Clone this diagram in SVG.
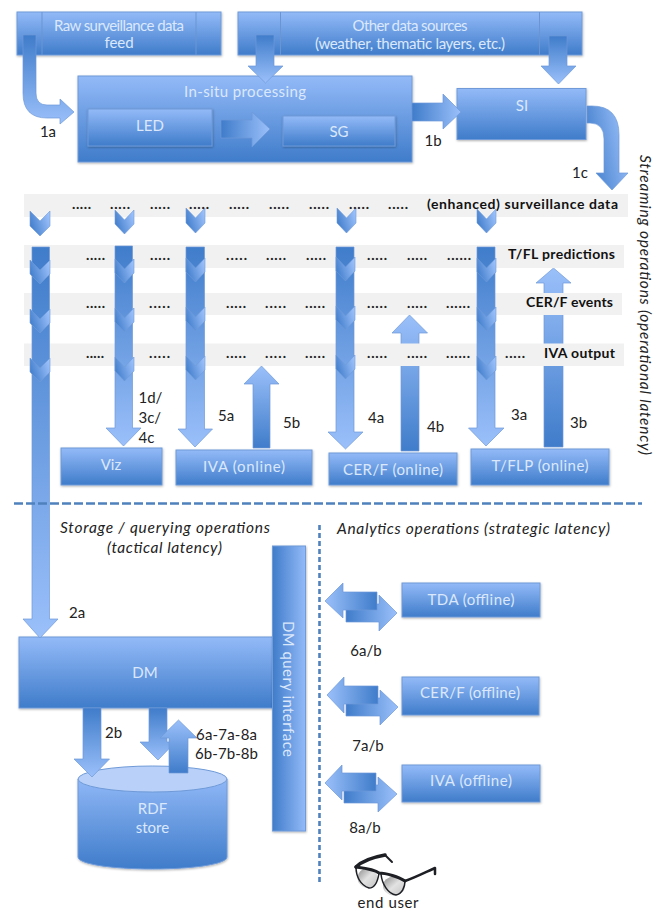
<svg xmlns="http://www.w3.org/2000/svg" width="654" height="912" viewBox="0 0 654 912">
<style>
text{font-family:"Lato","Carlito","Liberation Sans",sans-serif}
.n{fill:url(#box);stroke:#6f9ad8;stroke-width:1;filter:url(#sh)}
.nt{font-size:15px;fill:#dbe8fc;text-anchor:middle}
.sep{stroke:#6a95d2;stroke-width:1;fill:none}
.l{font-size:15px;fill:#222}
.b{font-size:14px;font-weight:700;fill:#111}
.i{font-size:15.5px;font-style:italic;fill:#222}
.dots{font-size:14px;font-weight:900;fill:#222}
.band{fill:#f1f1f1}
.ad{fill:url(#down);stroke:#6f9ad8;stroke-width:.7}
.au{fill:url(#up);stroke:#6f9ad8;stroke-width:.7}
.ar{fill:url(#right);stroke:#6f9ad8;stroke-width:.7}
.al{fill:url(#left);stroke:#6f9ad8;stroke-width:.7}
.ch{fill:url(#chev);stroke:#6f9ad8;stroke-width:.6}
.dash{stroke:#4f81bd;stroke-width:2.6;fill:none}
.fr{fill:none;stroke:#1d1f24;stroke-linecap:round;stroke-linejoin:round}
</style>
<defs>
<linearGradient id="box" x1="0" y1="0" x2="0" y2="1"><stop offset="0" stop-color="#93baf8"/><stop offset="1" stop-color="#3f7cca"/></linearGradient>
<linearGradient id="cyl" x1="0" y1="0" x2="0" y2="1"><stop offset="0" stop-color="#8fb7f6"/><stop offset="1" stop-color="#3f7cca"/></linearGradient>
<linearGradient id="side" x1="0" y1="0" x2="1" y2="0"><stop offset="0" stop-color="#3f7cca"/><stop offset="1" stop-color="#93baf8"/></linearGradient>
<linearGradient id="down" x1="0" y1="0" x2="0" y2="1"><stop offset="0" stop-color="#3f7cca"/><stop offset="1" stop-color="#9bc0fa"/></linearGradient>
<linearGradient id="up" x1="0" y1="1" x2="0" y2="0"><stop offset="0" stop-color="#3f7cca"/><stop offset="1" stop-color="#9bc0fa"/></linearGradient>
<linearGradient id="right" x1="0" y1="0" x2="1" y2="0"><stop offset="0" stop-color="#3f7cca"/><stop offset="1" stop-color="#9bc0fa"/></linearGradient>
<linearGradient id="left" x1="1" y1="0" x2="0" y2="0"><stop offset="0" stop-color="#3f7cca"/><stop offset="1" stop-color="#9bc0fa"/></linearGradient>
<linearGradient id="chev" x1="0" y1="0.7" x2="1" y2="0.3"><stop offset="0" stop-color="#3f7cca"/><stop offset="1" stop-color="#9bc0fa"/></linearGradient>
<linearGradient id="lens" x1="0" y1="0" x2="1" y2="1"><stop offset="0" stop-color="#8a8a8a"/><stop offset=".5" stop-color="#e2e2e2"/><stop offset="1" stop-color="#c2c2c2"/></linearGradient>
<filter id="sh" x="-5%" y="-5%" width="110%" height="115%"><feDropShadow dx="0.5" dy="1" stdDeviation="0.8" flood-color="#000" flood-opacity=".3"/></filter>
</defs>
<rect width="654" height="912" fill="#fff"/>

<g id="node-raw"><rect class="n" x="17" y="12" width="204" height="43"/><path class="sep" d="M42 12V55M196 12V55"/><text class="nt" x="119" y="31" textLength="130">Raw surveillance data</text><text class="nt" x="119" y="48">feed</text></g>
<g id="node-other"><rect class="n" x="238" y="12" width="344" height="43"/><path class="sep" d="M280.500 12V55M539.500 12V55"/><text class="nt" x="410" y="31" textLength="115">Other data sources</text><text class="nt" x="410" y="49" textLength="190">(weather, thematic layers, etc.)</text></g>
<g id="node-insitu"><rect class="n" x="78" y="76" width="334" height="86"/><text class="nt" x="245" y="97" textLength="122">In-situ processing</text></g>
<g id="node-led"><rect class="n" x="88" y="109" width="124" height="37"/><text class="nt" x="150" y="131">LED</text></g>
<g id="node-sg"><rect class="n" x="283" y="116" width="112" height="30"/><text class="nt" x="339" y="137">SG</text></g>
<g id="node-si"><rect class="n" x="457" y="88.500" width="129" height="51"/><text class="nt" x="522" y="111">SI</text></g>
<g id="node-viz"><rect class="n" x="61" y="448" width="101" height="37"/><text class="nt" x="111" y="470">Viz</text></g>
<g id="node-iva-online"><rect class="n" x="176" y="450" width="136" height="35"/><text class="nt" x="244" y="472" textLength="82">IVA (online)</text></g>
<g id="node-cerf-online"><rect class="n" x="329" y="453" width="128" height="32"/><text class="nt" x="393" y="475" textLength="100">CER/F (online)</text></g>
<g id="node-tflp-online"><rect class="n" x="471" y="449" width="138" height="36"/><text class="nt" x="540" y="471" textLength="97">T/FLP (online)</text></g>
<g id="node-dm"><rect class="n" x="19" y="637" width="254" height="71"/><text class="nt" x="145" y="678">DM</text></g>
<g id="node-dmq"><rect x="272.500" y="546" width="33" height="285" fill="url(#side)" stroke="#6f9ad8" filter="url(#sh)"/><text class="nt" transform="translate(283,689) rotate(90)" textLength="136">DM query interface</text></g>
<g id="node-rdf"><path d="M78 779V857C78 864 111 869 152.500 869S227 864 227 857V779Z" fill="url(#cyl)" stroke="#6f9ad8" filter="url(#sh)"/><ellipse cx="152.500" cy="779" rx="74.500" ry="13" fill="#b9d1f8" stroke="#6f9ad8"/><text class="nt" x="152.500" y="814">RDF</text><text class="nt" x="152.500" y="833">store</text></g>
<g id="node-tda"><rect class="n" x="402" y="583" width="138" height="34"/><text class="nt" x="471" y="605" textLength="87">TDA (offline)</text></g>
<g id="node-cerf-offline"><rect class="n" x="402" y="677" width="137" height="38"/><text class="nt" x="470" y="698" textLength="100">CER/F (offline)</text></g>
<g id="node-iva-offline"><rect class="n" x="402" y="765" width="138" height="37"/><text class="nt" x="471" y="786" textLength="82">IVA (offline)</text></g>

<g id="connectors-behind-bands">
<path class="au" d="M253 448V384H244L261.500 366L279 384H270V448Z"/>
<path class="au" d="M401 451V333H392L409.500 315L427.500 333H419V451Z"/>
<path class="au" d="M544 447V283H536L553.500 268L571 283H563V447Z"/>
</g>

<g id="bands">
<rect class="band" x="24" y="194" width="604" height="23"/>
<rect class="band" x="24" y="245" width="600" height="23"/>
<rect class="band" x="24" y="293" width="598" height="22"/>
<rect class="band" x="24" y="343.500" width="600" height="22.500"/>
</g>

<g id="connectors">
<path d="M23 35H36V93Q36 105 47 105H60V99L74 112L60 124V118H47Q23 118 23 93Z" fill="url(#down)" stroke="#6f9ad8" stroke-width=".7"/>
<path class="ad" d="M256 35H274V66H283L265.500 83L248 66H256Z"/>
<path class="ad" d="M549 36H567V66H576L558.500 84L541 66H549Z"/>
<path class="ar" d="M221 120H252V112L270 129L252 147V138H221Z"/>
<path class="ar" d="M412 103H443V94L461 112L443 129V121H412Z"/>
<path d="M587 106H592Q619 106 619 135V173H628L612 190L596 173H604V139Q604 123 590 123H587Z" fill="url(#chev)" stroke="#6f9ad8" stroke-width=".7"/>

<path class="ad" d="M32 247H49.500V619H58L40 638L23 619H32Z"/>
<path class="ad" d="M115 246H132.500V428H141L123.500 446L106 428H115Z"/>
<path class="ad" d="M186 247H204.500V429H212.500L195 447L178 429H186Z"/>
<path class="ad" d="M336 247H354V432H363L345.500 449L328 432H336Z"/>
<path class="ad" d="M477 247H495V428H504L486 446L468.500 428H477Z"/>

<g id="chevrons">
<path class="ch" d="M30 211L40 221L50 211V226L40 236L30 226Z"/>
<path class="ch" d="M30 260L40 270L50 260V274L40 284L30 274Z"/>
<path class="ch" d="M30 309L40 319L50 309V323L40 333L30 323Z"/>
<path class="ch" d="M30 358L40 368L50 358V372L40 382L30 372Z"/>
<path class="ch" d="M115 210L124.500 220L134 210V224L124.500 234L115 224Z"/>
<path class="ch" d="M115 259L124.500 269L134 259V273L124.500 283L115 273Z"/>
<path class="ch" d="M115 308L124.500 318L134 308V322L124.500 332L115 322Z"/>
<path class="ch" d="M115 357L124.500 367L134 357V371L124.500 381L115 371Z"/>
<path class="ch" d="M186 208L195.500 218L205 208V223L195.500 233L186 223Z"/>
<path class="ch" d="M186 258L195.500 268L205 258V272L195.500 282L186 272Z"/>
<path class="ch" d="M186 307L195.500 317L205 307V321L195.500 331L186 321Z"/>
<path class="ch" d="M186 356L195.500 366L205 356V370L195.500 380L186 370Z"/>
<path class="ch" d="M337 208L346.500 218L356 208V223L346.500 233L337 223Z"/>
<path class="ch" d="M336 257L345.500 267L355 257V271L345.500 281L336 271Z"/>
<path class="ch" d="M336 306L345.500 316L355 306V320L345.500 330L336 320Z"/>
<path class="ch" d="M336 355L345.500 365L355 355V369L345.500 379L336 369Z"/>
<path class="ch" d="M477 209L486.500 219L496 209V223L486.500 233L477 223Z"/>
<path class="ch" d="M477 258L486.500 268L496 258V272L486.500 282L477 272Z"/>
<path class="ch" d="M477 307L486.500 317L496 307V321L486.500 331L477 321Z"/>
<path class="ch" d="M477 356L486.500 366L496 356V370L486.500 380L477 370Z"/>
</g>

<path class="ad" d="M83 708H101V759H109.500L92 777L74 759H83Z"/>
<path class="ad" d="M149 708H167V742H175.500L158 760L140 742H149Z"/>
<path class="au" d="M169 773V738H160L178.500 720L197 738H188V773Z"/>

<path class="ar" d="M346 604H379V595L397 613L379 631V622H346Z"/>
<path class="al" d="M377 592V610H343V618L325 601L343 583V592Z"/>
<path class="ar" d="M346 698H380V690L398 707L380 725V716H346Z"/>
<path class="al" d="M378 686V704H344V713L327 695L344 677V686Z"/>
<path class="ar" d="M344 785H378V777L397 794L378 812V803H344Z"/>
<path class="al" d="M376 773V791H342V800L325 783L342 765V773Z"/>

<path class="dash" stroke-dasharray="9 3" d="M14 503.500H642"/>
<path class="dash" stroke-dasharray="5 3" d="M319.500 525V882"/>
</g>

<g id="dots">
<text class="dots" x="72" y="209" textLength="19">.....</text><text class="dots" x="110" y="209" textLength="20">.....</text><text class="dots" x="150" y="209" textLength="20">.....</text><text class="dots" x="189" y="209" textLength="20">.....</text><text class="dots" x="229" y="209" textLength="20">.....</text><text class="dots" x="269" y="209" textLength="20">.....</text><text class="dots" x="309" y="209" textLength="20">.....</text><text class="dots" x="349" y="209" textLength="20">.....</text><text class="dots" x="388" y="209" textLength="20">.....</text>
<text class="dots" x="86" y="260" textLength="19">.....</text><text class="dots" x="150" y="260" textLength="20">.....</text><text class="dots" x="226" y="260" textLength="21">.....</text><text class="dots" x="266" y="260" textLength="20">.....</text><text class="dots" x="306" y="260" textLength="20">.....</text><text class="dots" x="367" y="260" textLength="20">.....</text><text class="dots" x="407" y="260" textLength="20">.....</text><text class="dots" x="447" y="260" textLength="24">......</text>
<text class="dots" x="86" y="308" textLength="19">.....</text><text class="dots" x="149" y="308" textLength="21">.....</text><text class="dots" x="226" y="308" textLength="20">.....</text><text class="dots" x="265" y="308" textLength="21">.....</text><text class="dots" x="305" y="308" textLength="20">.....</text><text class="dots" x="367" y="308" textLength="20">.....</text><text class="dots" x="407" y="308" textLength="20">.....</text><text class="dots" x="446" y="308" textLength="24">......</text>
<text class="dots" x="86" y="358" textLength="18">.....</text><text class="dots" x="149" y="358" textLength="21">.....</text><text class="dots" x="226" y="358" textLength="20">.....</text><text class="dots" x="265" y="358" textLength="21">.....</text><text class="dots" x="305" y="358" textLength="20">.....</text><text class="dots" x="367" y="358" textLength="20">.....</text><text class="dots" x="407" y="358" textLength="20">.....</text><text class="dots" x="446" y="358" textLength="24">......</text><text class="dots" x="505" y="358" textLength="20">.....</text>
</g>

<g id="labels">
<text class="l" x="48" y="137" text-anchor="middle">1a</text>
<text class="l" x="433" y="146" text-anchor="middle">1b</text>
<text class="l" x="580" y="178" text-anchor="middle">1c</text>
<text class="b" x="427" y="209" textLength="191">(enhanced) surveillance data</text>
<text class="b" x="508" y="259" textLength="107">T/FL predictions</text>
<text class="b" x="526" y="307" textLength="87">CER/F events</text>
<text class="b" x="544" y="358" textLength="71">IVA output</text>
<text class="l" x="138.500" y="403">1d/</text>
<text class="l" x="138.500" y="423">3c/</text>
<text class="l" x="138.500" y="443">4c</text>
<text class="l" x="218" y="421">5a</text>
<text class="l" x="283" y="428">5b</text>
<text class="l" x="368" y="423">4a</text>
<text class="l" x="427" y="432">4b</text>
<text class="l" x="511" y="420">3a</text>
<text class="l" x="570" y="428">3b</text>
<text class="l" x="69" y="618">2a</text>
<text class="l" x="105" y="738">2b</text>
<text class="l" x="196" y="740" textLength="61">6a-7a-8a</text>
<text class="l" x="195" y="759" textLength="63">6b-7b-8b</text>
<text class="l" x="366" y="656" text-anchor="middle">6a/b</text>
<text class="l" x="368" y="751" text-anchor="middle">7a/b</text>
<text class="l" x="365" y="833" text-anchor="middle">8a/b</text>
<text class="i" x="60" y="533" textLength="210">Storage / querying operations</text>
<text class="i" x="107" y="553" textLength="115">(tactical latency)</text>
<text class="i" x="337" y="534" textLength="273">Analytics operations (strategic latency)</text>
<text class="i" transform="translate(640,155) rotate(90)" textLength="300">Streaming operations (operational latency)</text>
</g>

<g id="end-user">
<ellipse cx="367.500" cy="878" rx="10" ry="10" fill="url(#lens)"/>
<ellipse cx="394" cy="886" rx="11" ry="9.500" fill="url(#lens)"/>
<path class="fr" stroke-width="3.500" d="M356 867C362 861 374 857 385 855"/>
<path class="fr" stroke-width="2" d="M385 855L392 862"/>
<path class="fr" stroke-width="3" d="M356 867C364 868 374 869 379 873C386 873 399 877 405 881"/>
<path class="fr" stroke-width="1.500" d="M356 867C356 876 360 885 369 888C375 888 378 880 379 873M381 874C382 884 388 894 396 895C402 894 405 887 405 881"/>
<path class="fr" stroke-width="2.500" d="M405 881C414 878 426 872 435 868V874"/>
<text class="l" x="388" y="908" text-anchor="middle" textLength="61">end user</text>
</g>
</svg>
